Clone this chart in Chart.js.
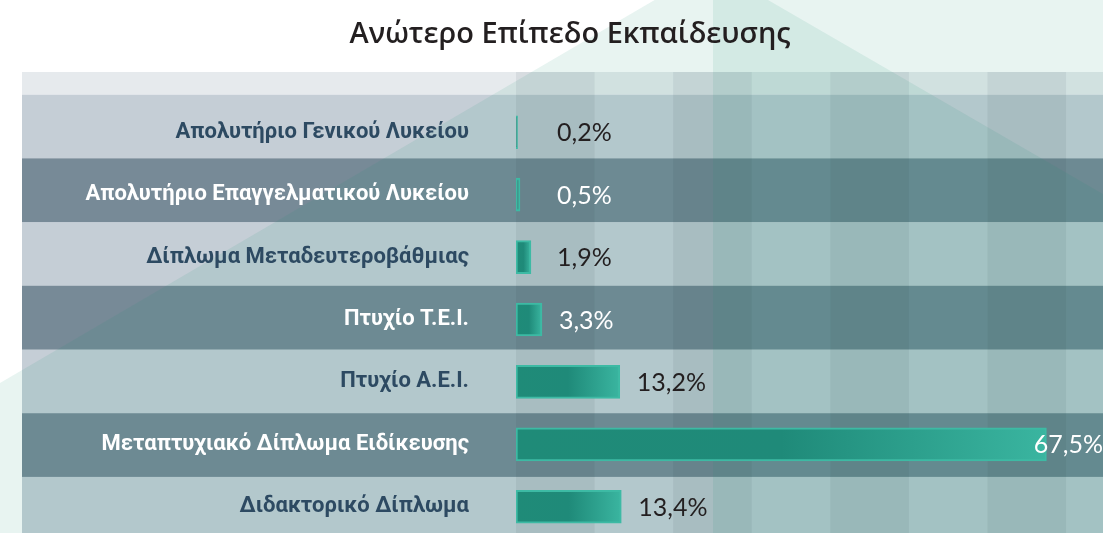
<!DOCTYPE html>
<html>
<head>
<meta charset="utf-8">
<script src="https://cdn.jsdelivr.net/npm/chart.js@4.4.1/dist/chart.umd.min.js"></script>
<style>
html, body { margin: 0; padding: 0; background: #ffffff; overflow: hidden; }
canvas { display: block; }
</style>
</head>
<body>
<canvas id="bar-chart" width="1103" height="538"></canvas>
<script>
var categories = [
    'Απολυτήριο Γενικού Λυκείου',
    'Απολυτήριο Επαγγελματικού Λυκείου',
    'Δίπλωμα Μεταδευτεροβάθμιας',
    'Πτυχίο Τ.Ε.Ι.',
    'Πτυχίο Α.Ε.Ι.',
    'Μεταπτυχιακό Δίπλωμα Ειδίκευσης',
    'Διδακτορικό Δίπλωμα'
];
var shares = [0.2, 0.5, 1.9, 3.3, 13.2, 67.5, 13.4];
var columnSteps = [0, 10, 20, 30, 40, 50, 60, 70];

Chart.defaults.font.family = '"Roboto", sans-serif';
Chart.defaults.animation = false;

// panel, stripes and the pale mint triangles behind everything
var backdrop = {
    id: 'backdrop',
    beforeDraw: function (chart) {
        var ctx = chart.ctx, x = chart.scales.x;
        var W = chart.width, H = chart.height;
        var panelLeft = 22, panelTop = 72, stripH = 22.7, rowH = 63.7;
        ctx.save();
        ctx.fillStyle = '#ffffff';
        ctx.fillRect(0, 0, W, H);
        ctx.fillStyle = '#e6eaed';
        ctx.fillRect(panelLeft, panelTop, W - panelLeft, stripH);
        categories.forEach(function (c, i) {
            ctx.fillStyle = i % 2 ? '#778a97' : '#c5ced6';
            ctx.fillRect(panelLeft, panelTop + stripH + i * rowH, W - panelLeft, rowH + 0.5);
        });
        // darker 10% columns
        ctx.fillStyle = 'rgba(10,30,40,0.065)';
        columnSteps.forEach(function (t, i) {
            if (i % 2 === 0) {
                var a = x.getPixelForValue(t), b = x.getPixelForValue(t + 10);
                ctx.fillRect(a, panelTop, b - a, H - panelTop);
            }
        });
        ctx.fillStyle = 'rgba(25,145,115,0.1)';
        ctx.beginPath();
        ctx.moveTo(0, 383);
        ctx.lineTo(711, -33);
        ctx.lineTo(W, 194);
        ctx.lineTo(W, H);
        ctx.lineTo(0, H);
        ctx.closePath();
        ctx.fill();
        ctx.fillRect(713, 0, W - 713, H);
        ctx.restore();
    }
};

var valueLabels = {
    id: 'valueLabels',
    afterDatasetsDraw: function (chart) {
        var ctx = chart.ctx, area = chart.chartArea, x = chart.scales.x;
        var meta = chart.getDatasetMeta(0);
        ctx.save();
        ctx.font = '25px "Lato", sans-serif';
        ctx.textBaseline = 'middle';
        ctx.textAlign = 'left';
        meta.data.forEach(function (bar, i) {
            var txt = shares[i].toFixed(1).replace('.', ',') + '%';
            var w = ctx.measureText(txt).width;
            var tx = Math.max(bar.x + 17, x.getPixelForValue(0) + 41);
            if (tx + w > area.right) tx = area.right - w;
            ctx.fillStyle = i % 2 ? '#ffffff' : '#231f20';
            ctx.fillText(txt, tx, bar.y + 1);
        });
        ctx.restore();
    }
};

var chart = new Chart(document.getElementById('bar-chart'), {
    type: 'bar',
    data: {
        labels: categories,
        datasets: [{
            data: shares,
            barThickness: 33,
            borderWidth: 2,
            borderSkipped: false,
            borderColor: '#3dbaa4',
            backgroundColor: function (c) {
                var ch = c.chart;
                if (!ch.chartArea) return '#23927e';
                var x0 = ch.scales.x.getPixelForValue(0);
                var x1 = ch.scales.x.getPixelForValue(shares[c.dataIndex]);
                var g = ch.ctx.createLinearGradient(x0, 0, Math.max(x1, x0 + 2), 0);
                g.addColorStop(0, '#1f8b78');
                g.addColorStop(0.5, '#1f8a79');
                g.addColorStop(1, '#3ab5a0');
                return g;
            }
        }]
    },
    options: {
        indexAxis: 'y',
        responsive: false,
        layout: { padding: { left: 37, right: 0, top: 0, bottom: 0 } },
        scales: {
            x: { type: 'linear', min: 0, max: 74.7, display: false },
            y: {
                grid: { display: false, drawTicks: false },
                border: { display: false },
                afterFit: function (scale) {
                    scale.width = 479;
                    scale.paddingTop = 0;
                    scale.paddingBottom = 0;
                },
                ticks: {
                    padding: 47,
                    font: { size: 22, weight: 'bold' },
                    color: function (c) { return c.index % 2 ? '#ffffff' : '#2d4a62'; }
                }
            }
        },
        plugins: {
            legend: { display: false },
            tooltip: { enabled: false },
            title: {
                display: true,
                text: 'Ανώτερο Επίπεδο Εκπαίδευσης',
                color: '#231f20',
                font: { family: '"Open Sans", sans-serif', size: 29, weight: '600' },
                padding: { top: 17, bottom: 49.2 }
            }
        }
    },
    plugins: [backdrop, valueLabels]
});
</script>
</body>
</html>
